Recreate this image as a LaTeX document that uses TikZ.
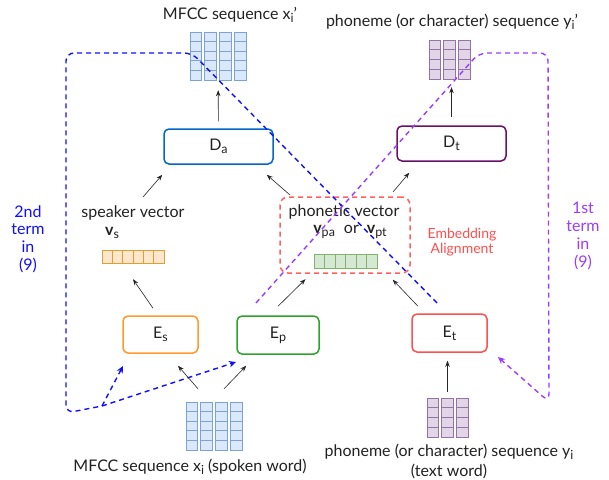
\documentclass[tikz,border=0pt]{standalone}
\usepackage{fontspec}
\setmainfont{Lato}
\usetikzlibrary{arrows.meta,calc}
\definecolor{txt}{HTML}{222222}
\definecolor{dablue}{HTML}{0066CC}
\definecolor{dtpurple}{HTML}{6A0F6A}
\definecolor{esorange}{HTML}{FF9A2E}
\definecolor{epgreen}{HTML}{2EA32E}
\definecolor{etred}{HTML}{FF4F4F}
\definecolor{pvred}{HTML}{FF6060}
\definecolor{dblue}{HTML}{1010FF}
\definecolor{dpurple}{HTML}{9B3DFF}
\definecolor{gbfill}{HTML}{DAE8FC}\definecolor{gbdraw}{HTML}{7EA1D6}
\definecolor{gpfill}{HTML}{E1D5E7}\definecolor{gpdraw}{HTML}{9673A6}
\definecolor{gofill}{HTML}{FFE6CC}\definecolor{godraw}{HTML}{E0A030}
\definecolor{ggfill}{HTML}{D5E8D4}\definecolor{ggdraw}{HTML}{82B366}
\newcommand\sbs[1]{\raisebox{-3.2pt}{\fontsize{12.5}{12.5}\selectfont #1}}
\newcommand\cellgrid[9]{% x0 y0 cols rows cellw cellh gap fill draw
  \foreach \ci in {1,...,#3}{\foreach \ri in {1,...,#4}{%
    \filldraw[fill=#8,draw=#9,line width=0.7pt]
      ({#1+(\ci-1)*(#5+#7)},{#2+(\ri-1)*#6}) rectangle ++(#5,#6);}}}
\begin{document}
\begin{tikzpicture}[x=1pt,y=-1pt,
  every node/.style={font=\fontsize{16}{18}\selectfont,text=txt},
  mod/.style={draw,rounded corners=5pt,line width=1.5pt,inner sep=0pt},
  gridbox/.style={inner sep=0pt},
  arr/.style={draw=black!85,line width=0.6pt,-{Stealth[length=6pt,width=4.5pt]}},
  bdash/.style={draw=dblue,line width=1.4pt,dash pattern=on 5pt off 4pt},
  pdash/.style={draw=dpurple,line width=1.4pt,dash pattern=on 5pt off 4pt},
  dtip/.style={-{Stealth[length=7pt,width=6.5pt]}},
  lbl/.style={align=center,font=\fontsize{16}{17.8}\selectfont}]
\useasboundingbox (0,0) rectangle (609,479);
\fill[white] (0,0) rectangle (609,479);
% grids
\cellgrid{190}{32}{4}{5}{11.75}{9.6}{3}{gbfill}{gbdraw}
\node[gridbox,minimum width=56,minimum height=48] (gtop) at (218,56) {};
\cellgrid{186}{402}{4}{5}{11.75}{9.6}{3}{gbfill}{gbdraw}
\node[gridbox,minimum width=56,minimum height=48] (gbot) at (214,426) {};
\cellgrid{429}{40}{3}{4}{11.67}{9.75}{3}{gpfill}{gpdraw}
\node[gridbox,minimum width=41,minimum height=39] (ptop) at (449.5,59.5) {};
\cellgrid{427}{398}{3}{4}{11.67}{9.75}{3}{gpfill}{gpdraw}
\node[gridbox,minimum width=41,minimum height=39] (pbot) at (447.5,417.5) {};
\cellgrid{102}{250}{6}{1}{10.33}{13}{0}{gofill}{godraw}
\node[gridbox,minimum width=62,minimum height=13] (obar) at (133,256.5) {};
\cellgrid{314}{254}{6}{1}{10.5}{14}{0}{ggfill}{ggdraw}
\node[gridbox,minimum width=63,minimum height=14] (gbar) at (345.5,261) {};
% modules
\node[mod,draw=dablue,minimum width=109,minimum height=35] (Da) at (218.5,146.5) {D\sbs{a}};
\node[mod,draw=dtpurple,minimum width=109,minimum height=35] (Dt) at (451.5,143.5) {D\sbs{t}};
\node[mod,draw=esorange,minimum width=75,minimum height=37] (Es) at (160.5,334.5) {E\sbs{s}};
\node[mod,draw=epgreen,minimum width=82,minimum height=38] (Ep) at (278,335) {E\sbs{p}};
\node[mod,draw=etred,minimum width=75,minimum height=38] (Et) at (449.5,333) {E\sbs{t}};
\node[draw=pvred,rounded corners=8pt,line width=1.5pt,dash pattern=on 5pt off 4pt,minimum width=130,minimum height=76,inner sep=0pt] (pv) at (345,235) {};
% texts
\node (tMa) at (230,15) {MFCC sequence x\sbs{i}'};
\node (tPa) at (452,22) {phoneme (or character) sequence y\sbs{i}'};
\node (spk) at (133,213) {speaker vector};
\node (vs) at (112,233) {\textbf{v}\sbs{s}};
\node (phv) at (344,212) {phonetic vector};
\node (vp) at (350,232) {\textbf{v}\sbs{pa}\hspace{9pt}or\hspace{8pt}\textbf{v}\sbs{pt}};
\node[align=center,text=etred,font=\fontsize{14}{15.5}\selectfont] (emb) at (462,242) {Embedding\\Alignment};
\node[lbl,text=dblue] (t2) at (28,239) {2nd\\term\\in\\(9)};
\node[lbl,text=dpurple] (t1) at (583,236) {1st\\term\\in\\(9)};
\node (tMb) at (190,467) {MFCC sequence x\sbs{i} (spoken word)};
\node[align=center,font=\fontsize{16}{20}\selectfont] (tPb) at (449,461) {phoneme (or character) sequence y\sbs{i}\\(text word)};
% dashed loops
\draw[bdash,rounded corners=8pt] (437,303) -- (192,53) -- (66,53) -- (66,413) -- (102,406) coordinate (bsplit);
\coordinate (bEs) at (123,366);
\coordinate (bEp) at (236,362);
\draw[bdash,dtip] (bsplit) -- (bEs);
\draw[bdash,dtip] (bsplit) -- (bEp);
\coordinate (pstart) at (256,303);
\coordinate (pEt) at (498,357);
\draw[pdash,dtip,rounded corners=8pt] (pstart) -- (479,53) -- (548,53) -- (549,402) -- (pEt);
% black arrows
\draw[arr,shorten <=7pt,shorten >=10pt] (Da) -- (gtop);
\draw[arr,shorten <=8pt,shorten >=8pt] (Dt.north) -- (Dt.north |- ptop.south);
\coordinate (a3) at (143,197);
\draw[arr] (a3) -- ($(Da.south west)+(-1pt,-10pt)$);
\coordinate (a4) at (290,195);
\draw[arr] (a4) -- ($(Da.south east)+(-7pt,-10pt)$);
\coordinate (a5) at (393,192);
\draw[arr] (a5) -- ($(Dt.south west)+(13pt,-11pt)$);
\draw[arr] ($(Es.north)+(-7.5pt,7pt)$) -- ($(obar.south)+(0pt,-16pt)$);
\draw[arr] ($(Ep.north)+(0pt,9pt)$) -- ($(gbar.south)+(-40pt,-11pt)$);
\draw[arr] ($(Et.north)+(-31.5pt,7pt)$) -- ($(pv.south east)+(-18pt,-6pt)$);
\draw[arr] ($(gbot.north)+(-16pt,13pt)$) -- ($(Es.south)+(17.5pt,-12pt)$);
\draw[arr] ($(gbot.north)+(10pt,13pt)$) -- ($(Ep.south west)+(10pt,-11pt)$);
\draw[arr,shorten <=6pt,shorten >=8pt] (pbot.north) -- (pbot.north |- Et.south);
\end{tikzpicture}
\end{document}
